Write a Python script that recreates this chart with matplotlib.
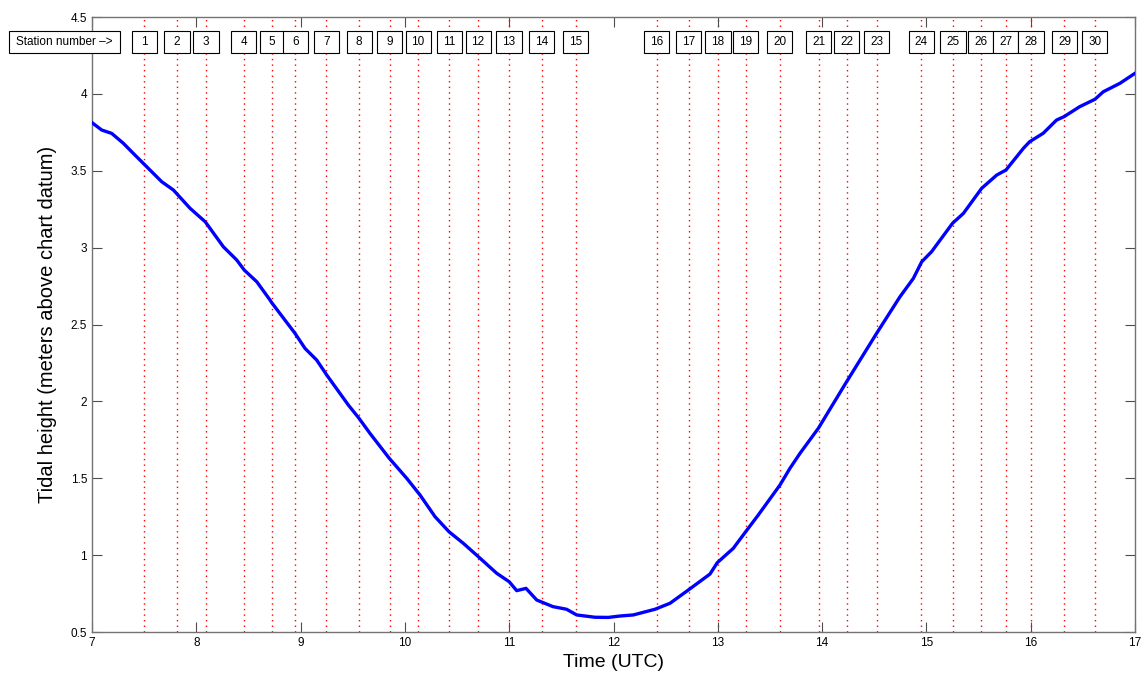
import matplotlib.pyplot as plt
from matplotlib.patches import Rectangle
from matplotlib.ticker import FormatStrFormatter

plt.rcParams['font.family'] = ['Liberation Sans', 'DejaVu Sans']

# tidal curve (hours UTC, metres above chart datum)
time_h = [7.0, 7.093, 7.189, 7.30, 7.396, 7.492, 7.668, 7.78, 7.94, 8.086, 8.259,
          8.387, 8.46, 8.58, 8.707, 8.723, 8.946, 9.042, 9.154, 9.25, 9.458, 9.56,
          9.665, 9.85, 10.017, 10.145, 10.289, 10.423, 10.56, 10.704, 10.88, 11.0,
          11.072, 11.161, 11.264, 11.42, 11.55, 11.647, 11.822, 11.95, 12.062,
          12.19, 12.398, 12.542, 12.717, 12.925, 12.995, 13.148, 13.267, 13.388,
          13.596, 13.692, 13.788, 13.964, 14.235, 14.523, 14.747, 14.875, 14.955,
          15.05, 15.25, 15.355, 15.53, 15.674, 15.763, 15.93, 15.99, 16.12, 16.248,
          16.32, 16.47, 16.616, 16.696, 16.856, 17.0]
height_m = [3.813, 3.765, 3.743, 3.679, 3.613, 3.548, 3.429, 3.375, 3.256, 3.168, 3.006,
            2.92, 2.854, 2.778, 2.659, 2.642, 2.443, 2.345, 2.269, 2.172, 1.976, 1.89,
            1.792, 1.63, 1.50, 1.391, 1.25, 1.152, 1.077, 0.99, 0.882, 0.827,
            0.769, 0.784, 0.708, 0.665, 0.648, 0.611, 0.596, 0.595, 0.604,
            0.611, 0.648, 0.687, 0.773, 0.877, 0.951, 1.044, 1.152, 1.261,
            1.456, 1.565, 1.662, 1.825, 2.128, 2.443, 2.681, 2.80, 2.908,
            2.974, 3.158, 3.223, 3.386, 3.472, 3.505, 3.646, 3.689, 3.744, 3.83,
            3.852, 3.917, 3.965, 4.014, 4.069, 4.134]

# station times (hours UTC)
station_num = list(range(1, 31))
station_t = [7.499, 7.815, 8.093, 8.457, 8.726, 8.951, 9.248, 9.56, 9.853, 10.126,
             10.423, 10.701, 10.998, 11.314, 11.64, 12.414, 12.72, 13.002, 13.269,
             13.596, 13.97, 14.238, 14.523, 14.951, 15.255, 15.523, 15.763, 16.003,
             16.324, 16.613]

fig = plt.figure(figsize=(11.43, 6.73), dpi=100)
ax = fig.add_axes([0.0805, 0.0609, 0.9125, 0.9138])

for t in station_t:
    ax.axvline(t, color='red', linestyle=(0, (1, 3)), linewidth=1, zorder=1)

ax.plot(time_h, height_m, color='blue', linewidth=2.4, zorder=3)

# station number boxes along the top
box_y = 4.337
box_h = 0.143
box_w = 0.24
for n, t in zip(station_num, station_t):
    ax.add_patch(Rectangle((t - box_w / 2, box_y - box_h / 2), box_w, box_h,
                           facecolor='white', edgecolor='black', linewidth=0.8,
                           clip_on=False, zorder=4))
    ax.text(t, box_y, str(n), ha='center', va='center', fontsize=8.5, zorder=5)

ax.add_patch(Rectangle((6.732 - 0.532, box_y - box_h / 2), 1.064, box_h,
                       facecolor='white', edgecolor='black', linewidth=0.8,
                       clip_on=False, zorder=4))
ax.text(6.732, box_y, "Station number \u2013>", ha='center', va='center',
        fontsize=8.5, zorder=5)

ax.set_xlim(7, 17)
ax.set_ylim(0.5, 4.5)
ax.set_xticks(range(7, 18))
ax.set_yticks([0.5, 1, 1.5, 2, 2.5, 3, 3.5, 4, 4.5])
ax.yaxis.set_major_formatter(FormatStrFormatter('%g'))
ax.tick_params(direction='in', length=7.5, width=0.8, top=True, right=True,
               labelsize=8.5, color='0.3')
for s in ax.spines.values():
    s.set_color('0.45')
    s.set_linewidth(1)

ax.set_xlabel("Time (UTC)", fontsize=14, labelpad=4)
ax.set_ylabel("Tidal height (meters above chart datum)", fontsize=14.5, labelpad=10)

plt.savefig("out.png", dpi=100)
